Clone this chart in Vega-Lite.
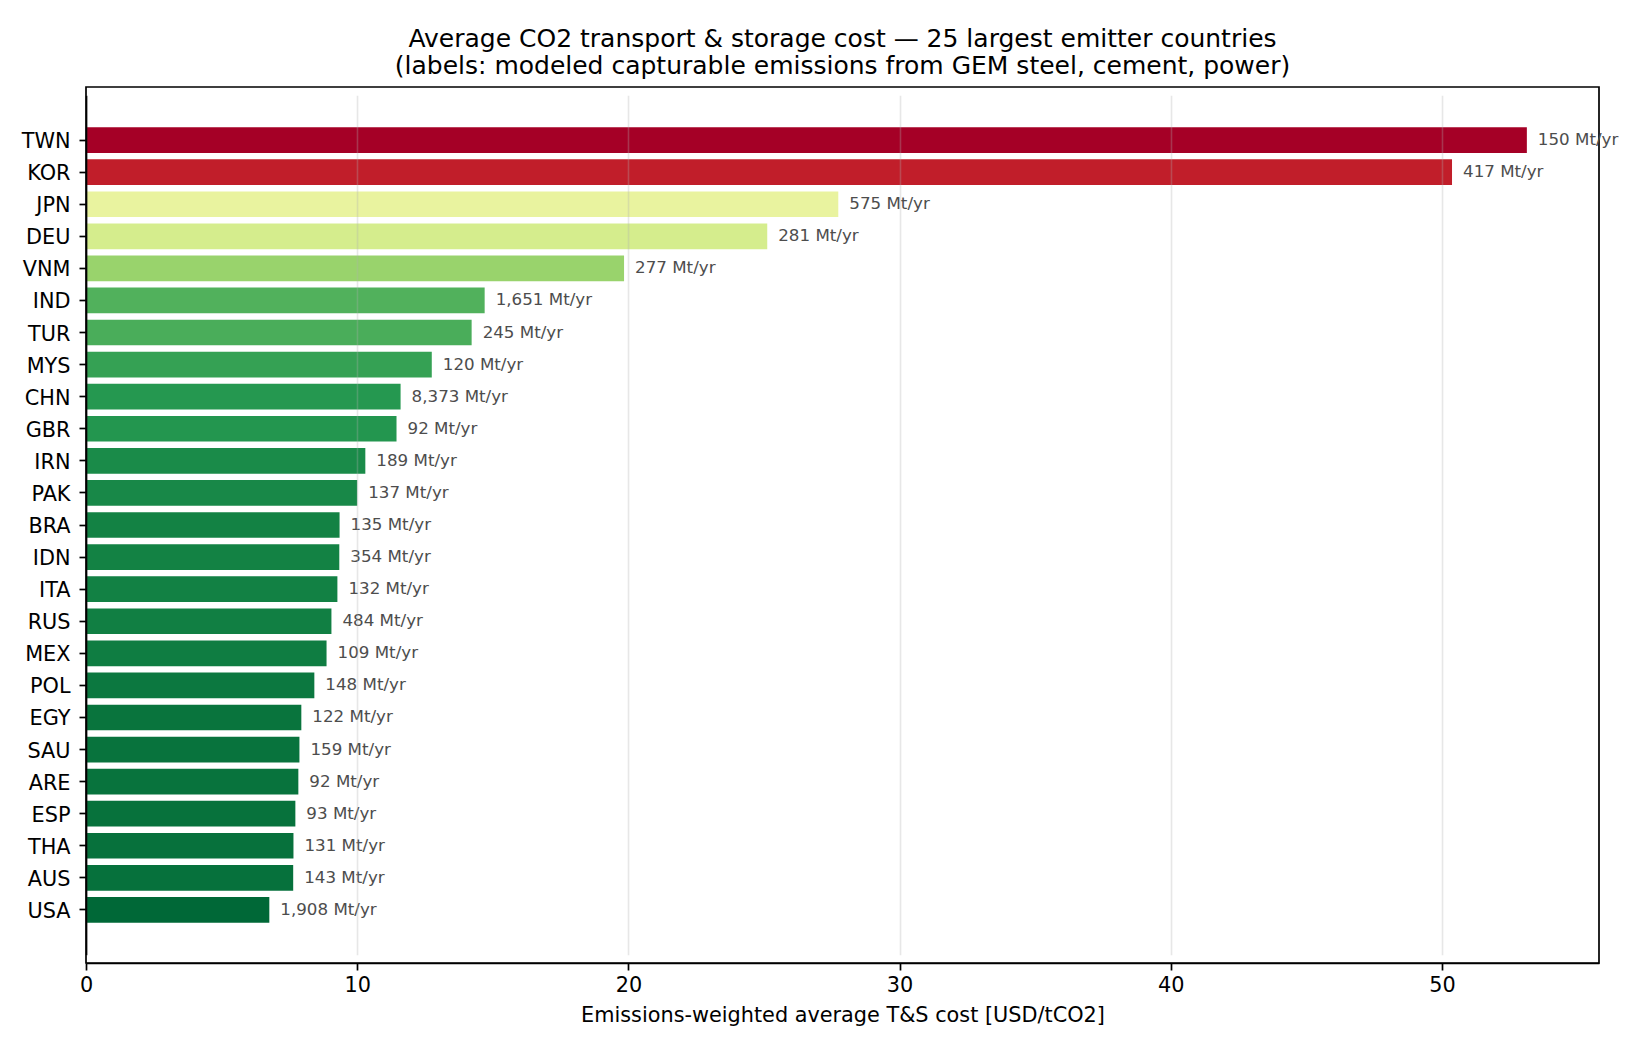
{
  "$schema": "https://vega.github.io/schema/vega-lite/v6.json",
  "width": 1513,
  "height": 876,
  "autosize": {"type": "none"},
  "padding": {"left": 86, "top": 87, "right": 51, "bottom": 87},
  "background": "white",
  "config": {
    "font": "DejaVu Sans",
    "view": {"stroke": "black", "strokeWidth": 1.7},
    "axis": {
      "labelFont": "DejaVu Sans",
      "labelFontSize": 20.8,
      "labelColor": "black",
      "titleFont": "DejaVu Sans",
      "titleFontSize": 20.8,
      "titleFontWeight": "normal",
      "titleColor": "black",
      "tickColor": "black",
      "tickWidth": 1.7,
      "tickSize": 7,
      "labelPadding": 7,
      "domainColor": "black",
      "domainWidth": 1.7
    }
  },
  "title": {
    "text": [
      "Average CO2 transport & storage cost — 25 largest emitter countries",
      "(labels: modeled capturable emissions from GEM steel, cement, power)"
    ],
    "font": "DejaVu Sans",
    "fontSize": 25,
    "fontWeight": "normal",
    "color": "black",
    "anchor": "middle",
    "lineHeight": 27.5,
    "offset": 8
  },
  "data": {
    "values": [
      {"country": "TWN", "cost": 53.13, "label": "150 Mt/yr"},
      {"country": "KOR", "cost": 50.37, "label": "417 Mt/yr"},
      {"country": "JPN", "cost": 27.74, "label": "575 Mt/yr"},
      {"country": "DEU", "cost": 25.12, "label": "281 Mt/yr"},
      {"country": "VNM", "cost": 19.84, "label": "277 Mt/yr"},
      {"country": "IND", "cost": 14.70, "label": "1,651 Mt/yr"},
      {"country": "TUR", "cost": 14.22, "label": "245 Mt/yr"},
      {"country": "MYS", "cost": 12.75, "label": "120 Mt/yr"},
      {"country": "CHN", "cost": 11.60, "label": "8,373 Mt/yr"},
      {"country": "GBR", "cost": 11.45, "label": "92 Mt/yr"},
      {"country": "IRN", "cost": 10.30, "label": "189 Mt/yr"},
      {"country": "PAK", "cost": 10.00, "label": "137 Mt/yr"},
      {"country": "BRA", "cost": 9.35, "label": "135 Mt/yr"},
      {"country": "IDN", "cost": 9.34, "label": "354 Mt/yr"},
      {"country": "ITA", "cost": 9.27, "label": "132 Mt/yr"},
      {"country": "RUS", "cost": 9.05, "label": "484 Mt/yr"},
      {"country": "MEX", "cost": 8.87, "label": "109 Mt/yr"},
      {"country": "POL", "cost": 8.42, "label": "148 Mt/yr"},
      {"country": "EGY", "cost": 7.94, "label": "122 Mt/yr"},
      {"country": "SAU", "cost": 7.87, "label": "159 Mt/yr"},
      {"country": "ARE", "cost": 7.83, "label": "92 Mt/yr"},
      {"country": "ESP", "cost": 7.72, "label": "93 Mt/yr"},
      {"country": "THA", "cost": 7.65, "label": "131 Mt/yr"},
      {"country": "AUS", "cost": 7.64, "label": "143 Mt/yr"},
      {"country": "USA", "cost": 6.76, "label": "1,908 Mt/yr"}
    ]
  },
  "encoding": {
    "y": {
      "field": "country",
      "type": "nominal",
      "sort": null,
      "title": null,
      "scale": {"paddingInner": 0.2, "paddingOuter": 1, "range": [8.15, 867.85]},
      "axis": {"labelAngle": 0, "grid": false, "labelPadding": 9, "labelOffset": 2, "zindex": 1}
    },
    "x": {
      "field": "cost",
      "type": "quantitative",
      "title": "Emissions-weighted average T&S cost [USD/tCO2]",
      "scale": {"domain": [0, 55.79], "nice": false, "zero": true},
      "axis": {
        "values": [0, 10, 20, 30, 40, 50],
        "grid": true,
        "gridColor": "#b0b0b0",
        "gridOpacity": 0.3,
        "gridWidth": 1.6,
        "labelFlush": false,
        "labelPadding": 5,
        "titlePadding": 11,
        "zindex": 1
      }
    }
  },
  "layer": [
    {
      "mark": {"type": "bar"},
      "encoding": {
        "color": {
          "field": "cost",
          "type": "quantitative",
          "scale": {"scheme": "redyellowgreen", "reverse": true, "domain": [6.76, 53.13]},
          "legend": null
        }
      }
    },
    {
      "mark": {
        "type": "text",
        "align": "left",
        "baseline": "middle",
        "dx": 11,
        "fontSize": 16.7,
        "color": "#4d4d4d",
        "clip": false
      },
      "encoding": {
        "text": {"field": "label", "type": "nominal"}
      }
    }
  ]
}
